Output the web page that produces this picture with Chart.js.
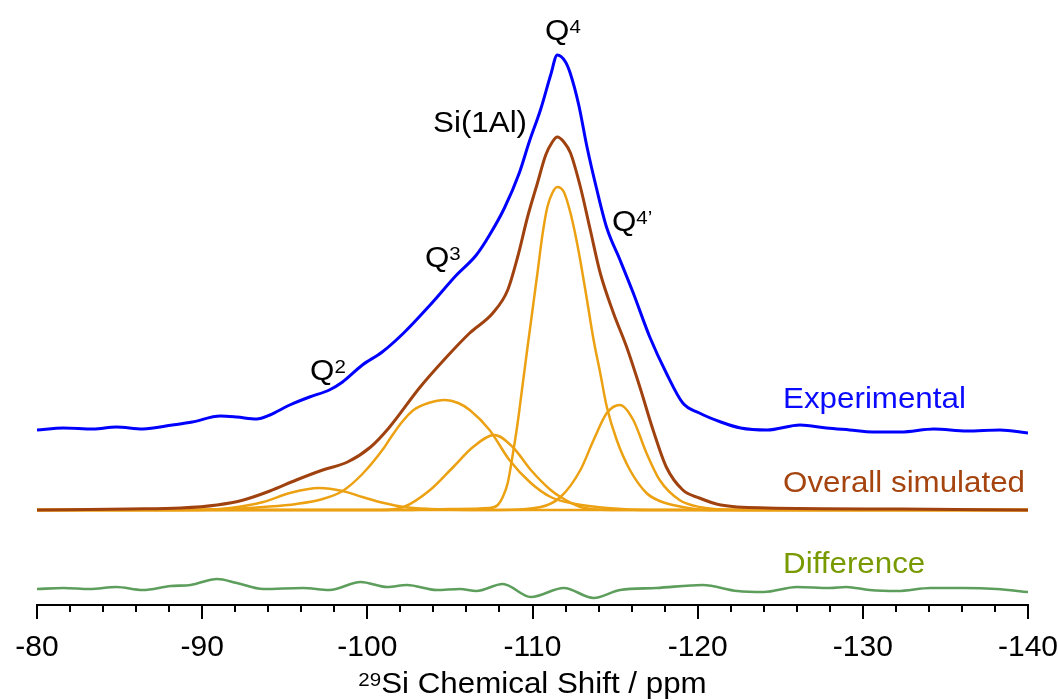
<!DOCTYPE html>
<html>
<head>
<meta charset="utf-8">
<script src="https://cdn.jsdelivr.net/npm/chart.js@4.4.1/dist/chart.umd.min.js"></script>
<style>
  html, body { margin: 0; padding: 0; background: #fff; }
  canvas { display: block; }
</style>
</head>
<body>
<canvas id="nmr" width="1058" height="700"></canvas>
<script>
// 29Si NMR spectrum + fit (arbitrary intensity units)
const expPpm = [-80.0, -81.6, -83.4, -84.8, -86.4, -88.2, -89.4, -91.1, -92.1, -93.3, -94.1, -95.3, -96.5, -97.7, -98.5, -99.7, -100.9, -102.2, -103.8, -105.4, -106.6, -107.4, -108.3, -109.2, -109.8, -110.5, -111.1, -111.5, -112.0, -112.3, -112.8, -113.3, -113.9, -114.5, -115.3, -116.1, -117.1, -118.1, -119.1, -120.1, -121.4, -122.6, -124.2, -126.2, -127.8, -129.2, -130.6, -132.3, -134.3, -136.3, -138.3, -140.0];
const expVal = [0, 2, 1, 3, 1, 5, 8, 14, 13, 11, 15, 25, 33, 40, 48, 65, 78, 97, 125, 155, 175, 195, 222, 257, 288, 321, 355, 375, 368, 356, 325, 283, 240, 202, 170, 137, 93, 57, 27, 17, 8, 2, 0, 5, 2, 0, -2, -2, 1, -1, 0, -3];

const fitPpm = [-80.0, -85.6, -88.7, -90.9, -92.5, -94.1, -95.7, -97.3, -98.8, -100.2, -101.3, -103.2, -104.8, -106.2, -107.6, -108.5, -109.1, -109.7, -110.3, -110.8, -111.2, -111.5, -111.9, -112.3, -112.9, -113.5, -114.1, -114.9, -115.7, -116.5, -117.3, -118.1, -119.1, -120.1, -121.4, -124.2, -132.3, -140.0];
const fitVal = [0, 1, 2, 5, 10, 19, 30, 40, 48, 63, 82, 123, 153, 177, 197, 220, 253, 293, 327, 355, 368, 373, 368, 357, 323, 280, 237, 197, 163, 123, 80, 43, 20, 12, 5, 2, 1, 0];

const q2Ppm = [-80, -89.9, -91.7, -93.7, -95.3, -97.1, -98.5, -99.7, -101.0, -102.2, -103.8, -106.2, -140];
const q2Val = [0, 0, 2, 8, 17, 22, 19, 13, 7, 3, 1, 0, 0];

const q3Ppm = [-80, -86.8, -91.7, -93.7, -95.7, -97.3, -98.5, -99.7, -101.0, -101.4, -102.1, -102.8, -103.7, -104.7, -105.5, -106.2, -107.4, -108.6, -109.9, -111.1, -112.6, -114.5, -117.1, -140];
const q3Val = [0, 0, 1, 3, 6, 11, 19, 36, 62, 72, 88, 100, 107, 110, 107, 100, 80, 50, 27, 13, 6, 2, 0, 0];

const si1AlPpm = [-80, -100.8, -102.2, -103.8, -105.2, -106.4, -107.7, -108.8, -109.9, -111.1, -111.7, -112.9, -114.7, -140];
const si1AlVal = [0, 0, 3, 20, 43, 63, 75, 63, 40, 20, 13, 3, 0, 0];

const q4Ppm = [-80, -102.0, -105.0, -107.4, -107.9, -108.2, -108.5, -108.8, -109.1, -109.4, -109.7, -110.0, -110.3, -110.6, -110.9, -111.2, -111.5, -111.9, -112.3, -112.6, -112.9, -113.3, -113.7, -114.1, -114.5, -115.1, -115.9, -116.9, -117.7, -118.5, -120.6, -140];
const q4Val = [0, 0, 1, 2, 5, 13, 27, 55, 87, 125, 163, 200, 237, 275, 303, 317, 323, 318, 297, 275, 249, 210, 170, 137, 103, 70, 40, 17, 9, 5, 0, 0];

const q4pPpm = [-80, -108.0, -110.5, -111.7, -112.9, -113.7, -114.5, -115.3, -116.1, -116.9, -117.7, -118.9, -120.1, -122.6, -140];
const q4pVal = [0, 0, 3, 13, 40, 70, 97, 105, 90, 57, 30, 10, 3, 0, 0];

const diffPpm = [-80.0, -81.6, -83.2, -84.8, -86.4, -88.1, -89.3, -90.9, -92.1, -93.7, -96.1, -97.7, -99.6, -101.2, -102.4, -104.2, -105.6, -106.6, -108.2, -109.9, -111.9, -113.7, -115.3, -117.5, -120.3, -122.4, -124.0, -126.0, -128.0, -129.0, -130.4, -132.1, -134.1, -136.1, -138.1, -140.0];
const diffVal = [1, 2, 1, 3, 0, 4, 5, 11, 7, 1, 2, 0, 8, 3, 5, 0, 1, -1, 6, -7, 2, -8, 0, 2, 5, -1, -2, 3, 2, 3, 0, -1, 2, 2, 1, -2];

// vertical stacking of the three traces
const expOffset = 175;
const fitOffset = 95;
const diffOffset = 15;

const majorTicks = [-80, -90, -100, -110, -120, -130, -140];

const peakLabels = [
  { main: 'Q', sup: '4', ppm: -110.76, val: 565 },
  { main: 'Si(1Al)', sup: '', ppm: -103.98, val: 473 },
  { main: 'Q', sup: '3', ppm: -103.49, val: 338 },
  { main: 'Q', sup: '2', ppm: -96.53, val: 225 },
  { main: 'Q', sup: '4\u2019', ppm: -114.81, val: 374 }
];
const seriesLabels = [
  { text: 'Experimental', color: '#0a0aff', ppm: -125.17, val: 197 },
  { text: 'Overall simulated', color: '#a5440f', ppm: -125.17, val: 113 },
  { text: 'Difference', color: '#789a00', ppm: -125.17, val: 32 }
];

const FAMILY = '"Liberation Sans", Arial, sans-serif';
const MAIN_FONT = '29px ' + FAMILY;
const SUP_FONT = '19px ' + FAMILY;
const SX = 1.08; // the original lettering is a bit wider than Arial

function pts(xs, ys, off) {
  return xs.map((x, i) => ({ x: x, y: ys[i] + off }));
}

function line(data, color, width) {
  return {
    data: data,
    borderColor: color,
    borderWidth: width,
    pointRadius: 0,
    cubicInterpolationMode: 'monotone',
    borderJoinStyle: 'round',
    fill: false
  };
}

function wideText(ctx, text, x, y) {
  ctx.save();
  ctx.translate(x, y);
  ctx.scale(SX, 1);
  ctx.fillText(text, 0, 0);
  ctx.restore();
  return ctx.measureText(text).width * SX;
}

const orange = '#eca112';

const decor = {
  id: 'decor',
  afterDraw(chart) {
    const { ctx, chartArea } = chart;
    const xs = chart.scales.x, ys = chart.scales.y;
    ctx.save();

    // major / minor ticks
    ctx.strokeStyle = '#000';
    ctx.lineWidth = 2;
    xs.ticks.forEach(t => {
      const px = Math.round(xs.getPixelForValue(t.value));
      const len = majorTicks.includes(t.value) ? 14 : 7;
      ctx.beginPath();
      ctx.moveTo(px, chartArea.bottom);
      ctx.lineTo(px, chartArea.bottom + len);
      ctx.stroke();
    });

    ctx.textBaseline = 'alphabetic';
    ctx.textAlign = 'left';

    peakLabels.forEach(l => {
      const x = xs.getPixelForValue(l.ppm);
      const y = ys.getPixelForValue(l.val);
      ctx.fillStyle = '#000';
      ctx.font = MAIN_FONT;
      const w = wideText(ctx, l.main, x, y);
      if (l.sup) {
        ctx.font = SUP_FONT;
        wideText(ctx, l.sup, x + w, y - 7);
      }
    });

    seriesLabels.forEach(l => {
      ctx.fillStyle = l.color;
      ctx.font = MAIN_FONT;
      wideText(ctx, l.text, xs.getPixelForValue(l.ppm), ys.getPixelForValue(l.val));
    });

    // axis title with superscript mass number
    const cx = (chartArea.left + chartArea.right) / 2;
    const ty = chartArea.bottom + 88;
    ctx.fillStyle = '#000';
    ctx.font = SUP_FONT;
    const ws = ctx.measureText('29').width * SX;
    ctx.font = MAIN_FONT;
    const wm = ctx.measureText('Si Chemical Shift / ppm').width * SX;
    const x0 = cx - (ws + wm) / 2;
    ctx.font = SUP_FONT;
    wideText(ctx, '29', x0, ty - 7);
    ctx.font = MAIN_FONT;
    wideText(ctx, 'Si Chemical Shift / ppm', x0 + ws, ty);

    ctx.restore();
  }
};

new Chart(document.getElementById('nmr'), {
  type: 'line',
  data: {
    datasets: [
      line(pts(expPpm, expVal, expOffset), '#0000ff', 3),
      line(pts(fitPpm, fitVal, fitOffset), '#a0420f', 3),
      line(pts(diffPpm, diffVal, diffOffset), '#5d9e5d', 2.6),
      line(pts(q4Ppm, q4Val, fitOffset), orange, 2.5),
      line(pts(si1AlPpm, si1AlVal, fitOffset), orange, 2.5),
      line(pts(q3Ppm, q3Val, fitOffset), orange, 2.5),
      line(pts(q2Ppm, q2Val, fitOffset), orange, 2.5),
      line(pts(q4pPpm, q4pVal, fitOffset), orange, 2.5)
    ]
  },
  options: {
    responsive: false,
    animation: false,
    layout: { padding: { top: 5, left: 37, right: 30, bottom: 0 } },
    plugins: { legend: { display: false }, tooltip: { enabled: false } },
    scales: {
      x: {
        type: 'linear',
        min: -140,
        max: -80,
        reverse: true,
        grid: { display: false },
        border: { display: true, color: '#000', width: 2 },
        ticks: {
          stepSize: 2,
          autoSkip: false,
          maxRotation: 0,
          padding: 17,
          color: '#000',
          font: { family: FAMILY, size: 30 },
          callback: v => majorTicks.includes(v) ? String(v) : ''
        },
        afterFit: s => {
          s.height = 95;
          s.paddingLeft = 0;
          s.paddingRight = 0;
        }
      },
      y: {
        display: false,
        min: 0,
        max: 600
      }
    }
  },
  plugins: [decor]
});
</script>
</body>
</html>
